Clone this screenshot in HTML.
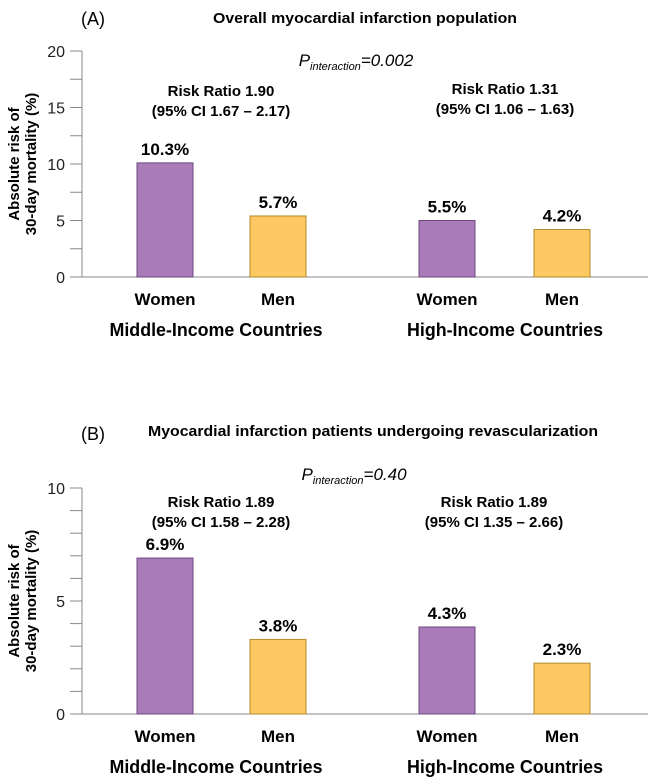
<!DOCTYPE html>
<html><head><meta charset="utf-8"><style>
body{margin:0;background:#fff;}
svg{display:block;font-family:"Liberation Sans",Arial,sans-serif;}
</style></head><body>
<svg id="chart" width="649" height="779" viewBox="0 0 649 779"></svg>
<script>
const categories = ["Women","Men","Women","Men"];
const groups = ["Middle-Income Countries","High-Income Countries"];
const valuesA = [10.1, 5.4, 5.0, 4.2];
const labelsA = ["10.3%","5.7%","5.5%","4.2%"];
const valuesB = [6.9, 3.3, 3.85, 2.25];
const labelsB = ["6.9%","3.8%","4.3%","2.3%"];
const ticksA = [0,2.5,5,7.5,10,12.5,15,17.5,20];
const tickLabelsA = ["0","","5","","10","","15","","20"];
const ticksB = [0,1,2,3,4,5,6,7,8,9,10];
const tickLabelsB = ["0","","","","","5","","","","","10"];

const NS="http://www.w3.org/2000/svg";
const svg=document.getElementById('chart');
function mk(tag,attrs,parent,text){const e=document.createElementNS(NS,tag);for(const k in attrs)e.setAttribute(k,attrs[k]);if(text!==undefined)e.textContent=text;(parent||svg).appendChild(e);return e;}
const centers=[165,278,447,562];
const barW=56;
const colors=["#a97bb8","#fec962","#a97bb8","#fec962"];
const strokes=["#6e4a7e","#b08a2a","#6e4a7e","#b08a2a"];

function panel(opt){
  const g=mk('g',{});
  
  
  const y=v=>opt.y0-(v/opt.max)*(opt.y0-opt.yTop);
  let t=mk('text',{x:81,y:opt.tagY,'font-size':18},g,opt.tag);
  
  t=mk('text',{x:opt.titleX,y:opt.titleY,'font-size':15,'font-weight':'bold','text-anchor':'middle',textLength:opt.titleW,lengthAdjust:'spacingAndGlyphs'},g,opt.title);
  
  t=mk('text',{x:opt.pX,y:opt.pY,'font-size':17,'font-style':'italic','text-anchor':'middle'},g);
  
  mk('tspan',{},t,'P');mk('tspan',{'font-size':11,dy:4},t,'interaction');mk('tspan',{dy:-4},t,'='+opt.p);
  let l=mk('line',{x1:82,x2:82,y1:opt.yTop,y2:opt.y0,stroke:'#888','stroke-width':1},g);
  
  l=mk('line',{x1:70,x2:648,y1:opt.y0,y2:opt.y0,stroke:'#888','stroke-width':1},g);
  
  opt.ticks.forEach((v,i)=>{
    const tk=mk('line',{x1:70,x2:82,y1:y(v),y2:y(v),stroke:'#888'},g);
    
    if(opt.tickLabels[i]){const tl=mk('text',{x:65,y:y(v)+6,'font-size':16,'text-anchor':'end',fill:'#222'},g,opt.tickLabels[i]);
      }
  });
  const mid=(opt.y0+opt.yTop)/2;
  t=mk('text',{transform:`translate(19,${mid}) rotate(-90)`,'font-size':15,'font-weight':'bold','text-anchor':'middle'},g,'Absolute risk of');
  
  t=mk('text',{transform:`translate(36,${mid}) rotate(-90)`,'font-size':15,'font-weight':'bold','text-anchor':'middle'},g,'30-day mortality (%)');
  
  opt.values.forEach((v,i)=>{
    const b=mk('rect',{x:centers[i]-barW/2,y:y(v),width:barW,height:opt.y0-y(v),fill:colors[i],stroke:strokes[i],'stroke-width':1},g);
    
    
    const vl=mk('text',{x:centers[i],y:y(v)-8,'font-size':17,'font-weight':'bold','text-anchor':'middle'},g,opt.labels[i]);
    
    const cl=mk('text',{x:centers[i],y:opt.catY,'font-size':17,'font-weight':'bold','text-anchor':'middle'},g,categories[i]);
    
  });
  [[216,groups[0],213],[505,groups[1],196]].forEach(([x,s,w])=>{
    const gl=mk('text',{x:x,y:opt.groupY,'font-size':18,'font-weight':'bold','text-anchor':'middle',textLength:w,lengthAdjust:'spacingAndGlyphs'},g,s);
    
  });
  opt.rr.forEach(r=>{
    let a=mk('text',{x:r.x,y:r.y,'font-size':15,'font-weight':'bold','text-anchor':'middle'},g,r.l1);
    
    a=mk('text',{x:r.x,y:r.y+20,'font-size':15,'font-weight':'bold','text-anchor':'middle'},g,r.l2);
    
  });
}
panel({name:'panel-a',tag:'(A)',tagY:25,title:'Overall myocardial infarction population',titleX:365,titleW:304,titleY:23,p:'0.002',pX:356,pY:66,
  y0:277,yTop:51,max:20,ticks:ticksA,tickLabels:tickLabelsA,values:valuesA,labels:labelsA,catY:305,groupY:336,
  rr:[{x:221,y:96,l1:'Risk Ratio 1.90',l2:'(95% CI 1.67 – 2.17)'},{x:505,y:94,l1:'Risk Ratio 1.31',l2:'(95% CI 1.06 – 1.63)'}]});
panel({name:'panel-b',tag:'(B)',tagY:440,title:'Myocardial infarction patients undergoing revascularization',titleX:373,titleW:450,titleY:436,p:'0.40',pX:354,pY:480,
  y0:714,yTop:488,max:10,ticks:ticksB,tickLabels:tickLabelsB,values:valuesB,labels:labelsB,catY:742,groupY:773,
  rr:[{x:221,y:507,l1:'Risk Ratio 1.89',l2:'(95% CI 1.58 – 2.28)'},{x:494,y:507,l1:'Risk Ratio 1.89',l2:'(95% CI 1.35 – 2.66)'}]});
</script>
</body></html>
